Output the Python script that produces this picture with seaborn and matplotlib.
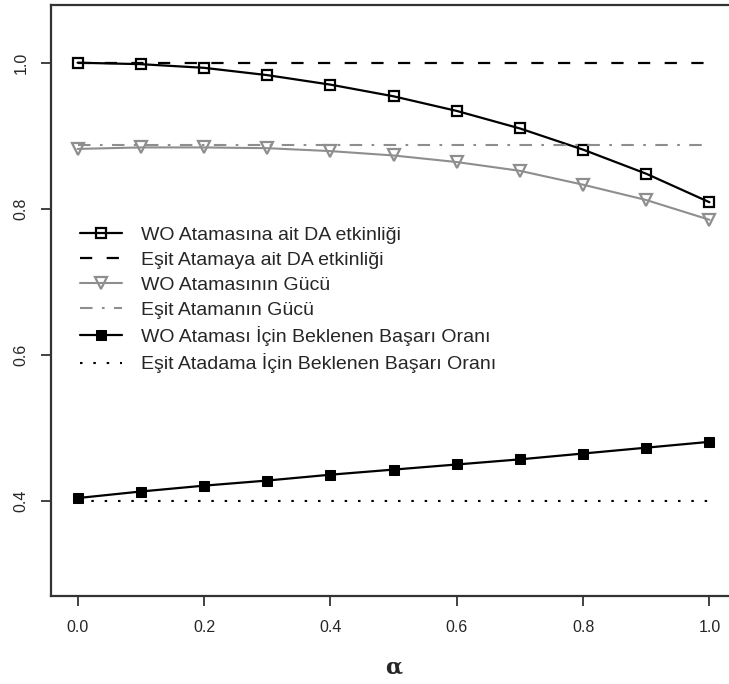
import numpy as np
import pandas as pd
import matplotlib
matplotlib.use("Agg")
import matplotlib.pyplot as plt
import seaborn as sns

# values
alpha = [0.0, 0.1, 0.2, 0.3, 0.4, 0.5, 0.6, 0.7, 0.8, 0.9, 1.0]
wo_da = [1.000, 0.998, 0.993, 0.983, 0.970, 0.954, 0.934, 0.910, 0.881, 0.848, 0.809]
esit_da = [1.0] * 11
wo_guc = [0.882, 0.884, 0.884, 0.883, 0.879, 0.873, 0.864, 0.852, 0.833, 0.812, 0.785]
esit_guc = [0.887] * 11
wo_basari = [0.404, 0.413, 0.421, 0.428, 0.436, 0.443, 0.450, 0.457, 0.465, 0.473, 0.481]
esit_basari = [0.400] * 11

labels = [
    "WO Atamasına ait DA etkinliği",
    "Eşit Atamaya ait DA etkinliği",
    "WO Atamasının Gücü",
    "Eşit Atamanın Gücü",
    "WO Ataması İçin Beklenen Başarı Oranı",
    "Eşit Atadama İçin Beklenen Başarı Oranı",
]
x_ticks = [0.0, 0.2, 0.4, 0.6, 0.8, 1.0]
y_ticks = [0.4, 0.6, 0.8, 1.0]

df = pd.DataFrame({"alpha": alpha, "wo_da": wo_da, "esit_da": esit_da,
                   "wo_guc": wo_guc, "esit_guc": esit_guc,
                   "wo_basari": wo_basari, "esit_basari": esit_basari})

sns.set_style("white")
plt.rcParams["font.family"] = ["Liberation Sans", "DejaVu Sans"]

fig = plt.figure(figsize=(7.29, 6.84), dpi=100)
ax = fig.add_axes([0.07, 0.1287, 0.9396, 0.864])

gray = "#8e8e8e"
styles = [
    ("wo_da", dict(color="black", lw=1.6, marker="s", ms=7.5, mfc="none", mec="black", mew=1.6)),
    ("esit_da", dict(color="black", lw=1.6, dashes=(5.5, 6.5))),
    ("wo_guc", dict(color=gray, lw=1.5, marker="v", ms=9, mfc="none", mec=gray, mew=1.6)),
    ("esit_guc", dict(color=gray, lw=1.5, dashes=(6, 4.5, 1.3, 4.5))),
    ("wo_basari", dict(color="black", lw=1.6, marker="s", ms=7.5, mfc="black", mec="black")),
    ("esit_basari", dict(color="black", lw=1.5, dashes=(1.2, 5.2))),
]
for (col, kw), lab in zip(styles, labels):
    sns.lineplot(data=df, x="alpha", y=col, ax=ax, label=lab, **kw)

ax.set_xlim(-0.042, 1.042)
ax.set_ylim(0.27, 1.079)
ax.set_xticks(x_ticks)
ax.set_xticklabels([f"{v:.1f}" for v in x_ticks], fontsize=11.5)
ax.set_yticks(y_ticks)
ax.set_yticklabels([f"{v:.1f}" for v in y_ticks], fontsize=11.5, rotation=90, va="center")
ax.tick_params(axis="both", direction="out", length=7, width=1.2, color="#222222",
               bottom=True, left=True)
ax.tick_params(axis="x", pad=10)
ax.tick_params(axis="y", pad=9)
for s in ax.spines.values():
    s.set_color("#333333")
    s.set_linewidth(1.6)

ax.set_xlabel("α", fontsize=16, family="DejaVu Serif", fontweight="bold", labelpad=16)
ax.set_ylabel("")

ax.legend(loc="upper left", bbox_to_anchor=(0.043, 0.626), frameon=False,
          fontsize=14, handlelength=2.16, handletextpad=0.93, labelspacing=0.38,
          borderpad=0, borderaxespad=0)

fig.savefig("out.png", dpi=100)
